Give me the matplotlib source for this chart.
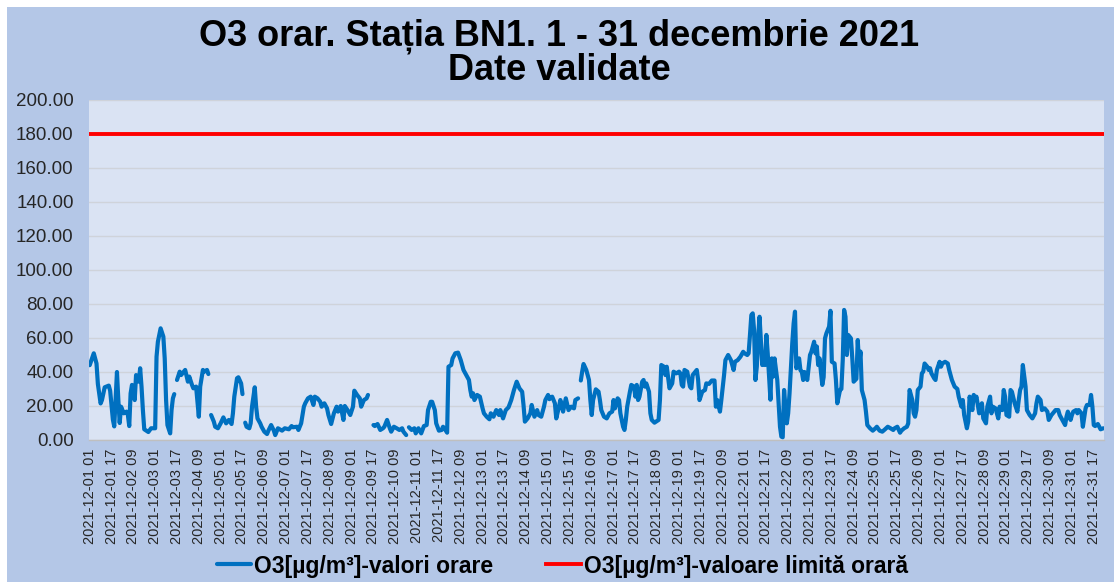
import numpy as np
import matplotlib
matplotlib.use('Agg')
import matplotlib.pyplot as plt
import pandas as pd
from matplotlib.patches import Rectangle

plt.rcParams['font.family'] = ['Liberation Sans', 'DejaVu Sans']

# ---- data (hour index from 2021-12-01 01, value in ug/m3; NaN = missing) ----
nan = float('nan')
o3_hour = [
    0, 3, 5, 6, 8, 9, 11, 14, 15, 17, 18, 19, 20, 21, 22, 23, 25, 27, 28, 29, 30, 31, 33, 34, 36, 37, 38, 39, 40, 43,
    45, 48, 49, 50, 51, 52, 54, 55, 56, 57, 59, 60, 61, 62,
    63,
    64, 66, 67, 70, 72, 73, 75, 76, 78, 80, 81, 83, 84, 86, 87,
    88,
    89, 91, 92, 94, 96, 98, 100, 102, 104, 105, 106, 108, 109, 111, 112,
    113,
    114, 115, 117, 118, 119, 121, 122, 123, 125, 126, 128, 130, 131, 133, 135, 136, 138, 141, 143, 146, 148, 149, 152,
    153, 155, 157, 158, 160, 162, 164, 165, 167, 169, 170, 172, 174, 175, 177, 179, 181, 182, 184, 186, 187, 189, 191,
    193, 194, 196, 198, 199, 201, 203, 204,
    205,
    208, 209, 211, 213, 215, 216, 218, 220, 221, 223, 225, 227, 229, 230, 232,
    233,
    234, 236, 238, 239, 241, 243, 245, 247, 248, 250, 251, 253, 254, 256, 258, 259, 260, 262, 263, 265, 266, 268, 270,
    272, 274, 276, 278, 279, 280, 281, 282, 284, 286, 288, 289, 291, 293, 294, 296, 298, 300, 301, 303, 305, 307, 309,
    311, 313, 315, 317, 318, 319, 321, 323, 324, 326, 328, 329, 331, 333, 334, 336, 337, 339, 341, 342, 344, 345, 347,
    349, 351, 353, 355, 356, 358,
    359,
    360, 361, 362, 364, 366, 367, 368, 369, 371, 373, 374, 375, 377, 379, 381, 383, 384, 385, 387, 388, 389, 391, 392,
    393, 394, 396, 397, 399, 400, 401, 402, 403, 405, 406, 407, 408, 410, 411, 412, 414, 417, 418, 419, 421, 422, 423,
    425, 427, 428, 430, 432, 433, 434, 435, 436, 438, 440, 441, 442, 444, 445, 446, 447, 449, 451, 452, 454, 456, 458,
    459, 460, 462, 463, 465, 466, 468, 470, 472, 473, 475, 477, 479, 480, 482, 483, 484, 485, 486, 487, 488, 489, 490,
    491, 493, 494, 495, 496, 497, 499, 500, 501, 502, 504, 505, 506, 507, 508, 509, 511, 512, 513, 515, 516, 517, 518,
    520, 521, 522, 523, 524, 526, 528, 529, 531, 532, 533, 534, 535, 537, 538, 539, 540, 542, 543, 544, 546, 547, 548,
    550, 551, 552, 553, 554, 555, 556, 558, 559, 560, 562, 563, 564, 565, 566, 568, 569, 570, 572, 574, 576, 577, 579,
    581, 583, 585, 587, 589, 590, 592, 594, 595, 597, 599, 600, 601, 603, 604, 605, 606, 607, 609, 610, 611, 612, 614,
    615, 616, 617, 619, 620, 621, 623, 624, 625, 627, 629, 630, 632, 634, 636, 637, 639, 640, 641, 643, 644, 645, 647,
    648, 649, 650, 652, 654, 655, 657, 658, 660, 661, 662, 664, 666, 667, 669, 670, 671, 672, 674, 675, 676, 678, 680,
    681, 682, 683, 684, 686, 687, 689, 691, 693, 694, 695, 697, 698, 700, 702, 703, 705, 706, 708, 710, 711, 713, 715,
    716, 717, 719, 720, 721, 723, 724, 725, 727, 728, 730, 731, 733, 734, 735, 736, 737, 739, 741, 743,
]
o3_value = [
    44, 51, 45, 33, 21.5, 23.5, 31, 32, 29, 12, 8, 23.5, 40, 23.5, 10, 19.6, 15.7, 16.7, 14.7, 8.2, 27.4, 32.4, 23.5, 38.2, 34.3, 42.2, 31.4, 17.6, 6.3, 4.7,
    6.9, 6.9, 49, 57.8, 61.8, 65.7, 60.8, 48, 23.5, 8.8, 3.9, 17.6, 24.5, 27,
    nan,
    35.3, 40.2, 38.2, 41.2, 34.3, 37.3, 32.4, 30.4, 31.4, 13.7, 31.4, 41.2, 40.2, 41.2, 38.8,
    nan,
    14.7, 10.8, 7.8, 6.9, 9.8, 13.3, 9.8, 11.8, 9.4, 15.7, 25.5, 36.3, 36.9, 33.3, 27,
    nan,
    10.2, 7.8, 6.9, 9.8, 19.6, 31, 19.6, 12.7, 9.8, 7.8, 4.9, 3.5, 5.5, 8.8, 5.5, 2.9, 6.9, 5.5, 6.9, 6.3, 8.2, 7.5, 7.8,
    5.9, 9.8, 19.6, 21.6, 24.5, 25.5, 20.6, 25.5, 24.5, 22.5, 19.6, 21.6, 18.6, 14.7, 9.4, 15.7, 19.6, 16.7, 20, 11.8, 20, 17.6, 14.7,
    19.6, 29, 26.5, 24.5, 19.6, 23.5, 24.5, 26.5,
    nan,
    8.8, 8.2, 9.4, 5.9, 6.9, 7.8, 11.8, 6.9, 4.9, 7.8, 6.9, 5.9, 6.9, 4.9, 2.9,
    nan,
    7.5, 5.9, 6.9, 3.9, 6.9, 3.9, 8.2, 8.8, 17.6, 22.5, 22.5, 17.6, 9.8, 5.5, 5.9, 7.8, 6.9, 4.3, 43.1, 44.1, 48, 51, 51.4,
    47, 41.2, 38.2, 35.3, 29.4, 25.5, 27.5, 23.5, 26.5, 25.5, 18.6, 15.7, 13.7, 12.2, 15.7, 13.7, 17.6, 14.7, 17.6, 12.7, 17.6, 19.2, 23.5,
    29.4, 34.3, 30.4, 28.4, 20.6, 10.8, 12.7, 15.7, 20.6, 13.7, 17.6, 14.7, 13.7, 19.6, 23.5, 26.5, 24, 25.5, 21.6, 12.7, 19.6, 23.5, 16.7,
    24.5, 17.6, 19.6, 18.6, 23.5, 24.5,
    nan,
    35, 40.2, 44.7, 41.2, 35.3, 23.5, 14.7, 23.5, 29.8, 28.4, 23.5, 17.6, 13.7, 12.7, 15.7, 16.7, 23.5, 18.6, 24.5, 23.5, 15.7, 7.8, 5.9,
    11.8, 19.6, 28.4, 32.4, 31.4, 25.5, 32.4, 23.5, 25.5, 34.3, 35.3, 31.4, 33.3, 28.4, 15.7, 11.8, 10.2, 11.8, 23.5, 44.1, 43.1, 38.2, 43.1,
    30.4, 33.3, 40.2, 39.2, 40.2, 39.2, 32.4, 31.4, 41.2, 40.2, 31.4, 30.4, 38.2, 40.2, 41.2, 35.3, 23.5, 28.4, 29.4, 33.3, 33, 35, 35,
    19.6, 23.5, 16.7, 23.5, 38.2, 47, 50, 47, 41.2, 46, 47, 49, 51.9, 51, 50, 51, 61.8, 73.5, 74.5, 64.7, 35.3, 43.1, 60.8,
    72.5, 44.1, 50, 44.1, 61.8, 51, 23.7, 48, 37.3, 48, 35.3, 21.6, 7.8, 2, 1.6, 29.4, 9.8, 15.7, 27.5, 56.9, 68.6, 75.5, 42.2,
    48, 41, 40.2, 35.3, 40, 35.3, 50, 51.9, 57.8, 51, 55, 44.1, 48, 32.4, 37, 59.8, 62.7, 66.7, 76, 46, 45, 35.3, 21.6,
    29.4, 30, 47, 76.5, 72.5, 50, 61.8, 59.8, 48, 34.3, 36, 58.8, 44.1, 52, 29.4, 23.5, 16.7, 8.8, 6.9, 5.5, 6.9, 7.8, 5.5,
    4.9, 6.3, 7.8, 6.9, 5.9, 6.9, 7.8, 4.3, 5.5, 6.9, 7.8, 9.8, 29.4, 23.5, 15.7, 13.7, 17.6, 29.4, 31.4, 39.2, 40.2, 45, 43.1,
    41.2, 42.2, 39.2, 36.3, 35.3, 41.2, 46, 43.1, 45, 46, 45, 41.2, 35.3, 31.4, 30, 25.5, 19.6, 23.5, 14.7, 6.9, 11, 25.5, 17.6,
    26.5, 23.5, 25.5, 15.7, 21.6, 12.7, 9.8, 19.6, 25.5, 15.7, 19.6, 18.6, 12.7, 19.6, 17.6, 29.4, 25.5, 14.7, 13.7, 29.4, 28.4, 21.6, 16.7,
    23.5, 29.4, 31.4, 44.1, 31.4, 17.6, 14.7, 12.7, 15.7, 21.6, 25.5, 23.5, 17.6, 18.6, 16.7, 11.8, 14.7, 15.7, 17.6, 17.6, 14.7, 11.8, 8.8,
    13.7, 16.7, 11.8, 14.7, 16.7, 17.6, 15.7, 17.6, 15.7, 7.8, 18.6, 20.6, 20.6, 26.5, 19.6, 8.8, 8.2, 9.4, 6.3, 6.9,
]
limit_value = 180.0
n_hours = 744
first_hour = '2021-12-01 01:00'
tick_step = 16
y_ticks = [0, 20, 40, 60, 80, 100, 120, 140, 160, 180, 200]

title_line1 = 'O3 orar. Stația BN1. 1 - 31 decembrie 2021'
title_line2 = 'Date validate'
label_series = 'O3[µg/m³]-valori orare'
label_limit = 'O3[µg/m³]-valoare limită orară'

# ---- figure ----
W, H = 1118, 582
fig = plt.figure(figsize=(W / 100, H / 100), dpi=100)
fig.patch.set_facecolor('white')
fig.patches.append(Rectangle((7 / W, 0), (1114 - 7) / W, (H - 7) / H, transform=fig.transFigure,
                             facecolor='#B4C7E7', edgecolor='none', zorder=-10))

ax = fig.add_axes([89 / W, 1 - 440 / H, (1104 - 89) / W, 340 / H])
ax.set_facecolor('#DAE3F3')

hours = np.array(o3_hour, dtype=float)
vals = np.array(o3_value, dtype=float)
line1, = ax.plot(hours, vals, color='#0070C0', lw=3.0, solid_joinstyle='round', solid_capstyle='round', zorder=3)
line2 = ax.axhline(limit_value, color='#FF0000', lw=2.8, zorder=3)

ax.set_xlim(-0.5, n_hours - 0.5)
ax.set_ylim(0, 200)
ax.set_yticks(y_ticks)
ax.set_yticklabels([f'{v:.2f}' for v in y_ticks], fontsize=13.5, color='#262626')
ax.yaxis.grid(True, color='#CFD3DA', lw=1.0, zorder=0)
ax.set_axisbelow(True)

times = pd.date_range(first_hour, periods=n_hours, freq='h')
tick_idx = list(range(0, n_hours, tick_step))
ax.set_xticks(tick_idx)
ax.set_xticklabels([times[i].strftime('%Y-%m-%d %H') for i in tick_idx], rotation=90,
                   fontsize=10.5, color='#262626')
ax.tick_params(axis='x', length=0, pad=6)
ax.tick_params(axis='y', length=0, pad=11)
for s in ['top', 'right', 'left']:
    ax.spines[s].set_visible(False)
ax.spines['bottom'].set_color('#BFBFBF')
ax.spines['bottom'].set_linewidth(1.0)

fig.text(0.5, 1 - 36 / H, title_line1, ha='center', va='center', fontsize=26, fontweight='bold')
fig.text(0.5, 1 - 70 / H, title_line2, ha='center', va='center', fontsize=26, fontweight='bold')

leg = fig.legend([line1, line2], [label_series, label_limit], loc='center', ncol=2,
                 bbox_to_anchor=(0.503, 1 - 566 / H), frameon=False, prop={'weight': 'bold', 'size': 16.5},
                 handlelength=1.5, columnspacing=2.3, handletextpad=0.15)

fig.savefig('out.png', dpi=100, facecolor=fig.get_facecolor())
